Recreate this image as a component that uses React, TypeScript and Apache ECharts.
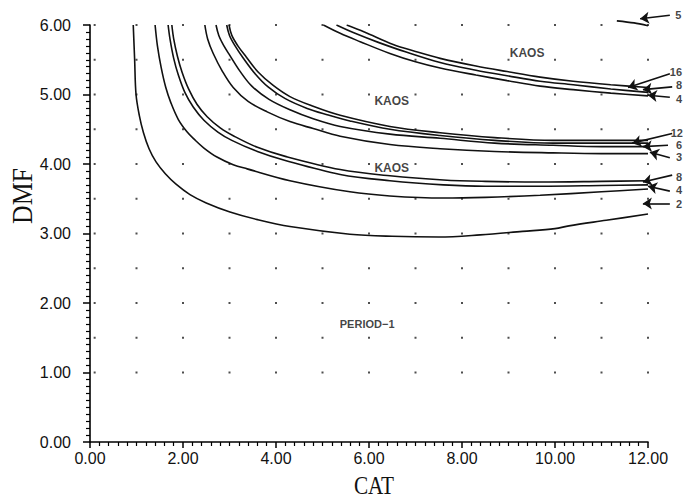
import React, { useEffect, useRef } from "react";
import * as echarts from "echarts";

// ---- axis ----
const CAT_MIN = 0;
const CAT_MAX = 12;
const CAT_STEP = 2;
const DMF_MIN = 0;
const DMF_MAX = 6;
const DMF_STEP = 1;

// ---- reference dot grid ----
const dotCat = [0.1, 1, 2, 3, 4, 5, 6, 7, 8, 9, 10, 11, 12];
const dotDmf = [1, 1.5, 2, 2.5, 3, 3.5, 4, 4.5, 5, 5.5, 6];

// ---- boundary curves (CAT, DMF) ----
// lower group: periods 2, 4, 8, 16
const curvePeriod2 = [
  [0.93, 6.0], [0.96, 5.5], [0.99, 5.0], [1.06, 4.7], [1.15, 4.45], [1.27, 4.22],
  [1.42, 4.03], [1.62, 3.86], [1.85, 3.71], [2.15, 3.56], [2.5, 3.44], [3.01, 3.31],
  [3.6, 3.2], [4.3, 3.1], [5.59, 2.99], [6.5, 2.96], [7.5, 2.95], [8.39, 2.98],
  [9.3, 3.03], [10.0, 3.07], [10.3, 3.11], [11.1, 3.19], [12.0, 3.28],
];
const curvePeriod4 = [
  [1.4, 6.0], [1.45, 5.7], [1.53, 5.39], [1.63, 5.1], [1.74, 4.88], [1.9, 4.64],
  [2.09, 4.46], [2.25, 4.35], [2.45, 4.23], [2.73, 4.1], [3.08, 3.99], [3.38, 3.93],
  [4.3, 3.76], [5.59, 3.6], [6.45, 3.54], [7.6, 3.51], [8.5, 3.52], [9.68, 3.55],
  [11.0, 3.6], [12.0, 3.64],
];
const curvePeriod8 = [
  [1.68, 6.0], [1.72, 5.8], [1.8, 5.52], [1.9, 5.28], [2.04, 5.03], [2.22, 4.82],
  [2.45, 4.63], [2.75, 4.46], [3.05, 4.34], [3.6, 4.18], [4.2, 4.05], [5.38, 3.85],
  [6.45, 3.76], [7.6, 3.7], [8.5, 3.68], [9.68, 3.68], [11.0, 3.69], [12.0, 3.7],
];
const curvePeriod16 = [
  [1.76, 6.0], [1.8, 5.8], [1.88, 5.55], [1.98, 5.32], [2.12, 5.08], [2.3, 4.86],
  [2.52, 4.68], [2.8, 4.52], [3.1, 4.4], [3.6, 4.24], [4.2, 4.11], [5.38, 3.92],
  [6.45, 3.83], [7.6, 3.77], [8.5, 3.75], [9.68, 3.74], [11.0, 3.75], [12.0, 3.76],
];
// middle group: periods 3, 6, 12, 24
const curvePeriod3 = [
  [2.47, 6.0], [2.53, 5.8], [2.65, 5.59], [2.85, 5.33], [3.08, 5.1], [3.4, 4.9],
  [3.81, 4.75], [4.3, 4.61], [4.8, 4.51], [5.38, 4.4], [6.45, 4.28], [7.53, 4.22],
  [8.7, 4.18], [9.96, 4.16], [11.0, 4.15], [12.0, 4.15],
];
const curvePeriod6 = [
  [2.71, 6.0], [2.77, 5.85], [2.88, 5.7], [3.01, 5.56], [3.22, 5.34], [3.48, 5.12],
  [3.85, 4.93], [4.3, 4.78], [4.8, 4.65], [5.38, 4.54], [6.45, 4.43], [7.53, 4.37],
  [8.7, 4.3], [9.96, 4.27], [11.0, 4.25], [12.0, 4.25],
];
const curvePeriod12 = [
  [2.94, 6.0], [3.0, 5.85], [3.12, 5.7], [3.29, 5.53], [3.55, 5.3], [3.83, 5.11],
  [4.2, 4.94], [4.67, 4.8], [5.1, 4.71], [5.59, 4.62], [6.45, 4.5], [7.53, 4.41],
  [8.7, 4.34], [9.96, 4.3], [11.0, 4.3], [12.0, 4.3],
];
const curvePeriod24 = [
  [2.99, 6.0], [3.05, 5.85], [3.18, 5.7], [3.36, 5.54], [3.62, 5.32], [3.94, 5.13],
  [4.3, 4.97], [4.8, 4.83], [5.38, 4.7], [6.45, 4.54], [7.53, 4.45], [8.7, 4.38],
  [9.96, 4.34], [11.0, 4.34], [12.0, 4.34],
];
// upper group: periods 4, 8, 16
const curveUpper4 = [
  [5.02, 6.0], [5.38, 5.88], [5.81, 5.76], [6.45, 5.59], [7.0, 5.47], [7.53, 5.38],
  [8.3, 5.28], [8.97, 5.2], [9.68, 5.12], [10.39, 5.07], [11.2, 5.02], [12.0, 4.98],
];
const curveUpper8 = [
  [5.3, 6.0], [5.7, 5.88], [6.2, 5.75], [6.8, 5.61], [7.53, 5.46], [8.3, 5.35],
  [8.97, 5.27], [9.68, 5.19], [10.39, 5.14], [11.2, 5.08], [12.0, 5.03],
];
const curveUpper16 = [
  [5.52, 6.0], [5.9, 5.9], [6.52, 5.72], [7.0, 5.62], [7.53, 5.52], [8.3, 5.41],
  [8.97, 5.33], [9.68, 5.25], [10.39, 5.19], [11.2, 5.14], [12.0, 5.1],
];
// period-5 fragment at the top right corner
const curvePeriod5 = [[11.33, 6.06], [11.7, 6.03], [12.0, 5.99]];

// ---- arrow annotations ----
const arrowLabels = ["5", "16", "8", "4", "12", "6", "3", "8", "4", "2"];
const arrowLabelPos = [
  [12.65, 6.14], [12.6, 5.32], [12.67, 5.13], [12.67, 4.94], [12.62, 4.44],
  [12.67, 4.27], [12.67, 4.1], [12.67, 3.81], [12.67, 3.62], [12.67, 3.43],
];
const arrowTails = [
  [12.47, 6.14], [12.47, 5.3], [12.52, 5.11], [12.47, 4.96], [12.52, 4.44],
  [12.43, 4.27], [12.47, 4.09], [12.52, 3.84], [12.47, 3.61], [12.47, 3.43],
];
const arrowTips = [
  [11.83, 6.09], [11.57, 5.1], [11.89, 5.07], [12.0, 4.99], [11.66, 4.3],
  [11.89, 4.25], [12.04, 4.17], [11.89, 3.74], [12.0, 3.68], [11.89, 3.43],
];

// ---- region labels ----
const regionNames = ["KAOS", "KAOS", "KAOS", "PERIOD\u22121"];
const regionPos = [[9.4, 5.6], [6.49, 4.9], [6.49, 3.94], [5.96, 1.7]];
const regionSizes = [12, 12, 12, 11];

const allCurves = [
  curvePeriod2, curvePeriod4, curvePeriod8, curvePeriod16,
  curvePeriod3, curvePeriod6, curvePeriod12, curvePeriod24,
  curveUpper4, curveUpper8, curveUpper16,
];

export default function App() {
  const ref = useRef<HTMLDivElement>(null);

  useEffect(() => {
    if (!ref.current) return;
    const chart = echarts.init(ref.current, undefined, { renderer: "svg" });

    const dots: number[][] = [];
    for (const c of dotCat) for (const d of dotDmf) dots.push([c, d]);

    const lineStyle = { color: "#111", width: 1.6 };

    const curveSeries: any[] = allCurves.map((data) => ({
      type: "line",
      data,
      smooth: 0.35,
      showSymbol: false,
      symbol: "none",
      lineStyle,
      silent: true,
      z: 3,
    }));
    curveSeries.push({
      type: "line",
      data: curvePeriod5,
      smooth: 0.3,
      showSymbol: false,
      symbol: "none",
      lineStyle,
      clip: false,
      silent: true,
      z: 3,
    });

    const tickFont = {
      fontFamily: "Liberation Sans, Arial, sans-serif",
      fontSize: 16,
      color: "#111",
    };

    chart.setOption({
      animation: false,
      backgroundColor: "#fff",
      grid: { left: 90, right: 36, top: 25, bottom: 58, containLabel: false },
      xAxis: {
        type: "value",
        min: CAT_MIN,
        max: CAT_MAX,
        interval: CAT_STEP,
        axisLine: { show: true, onZero: false, lineStyle: { color: "#000", width: 1.6 } },
        axisTick: { show: true, inside: false, length: 6, lineStyle: { color: "#000", width: 1.5 } },
        minorTick: { show: true, splitNumber: 10, length: 4, lineStyle: { color: "#000", width: 1.2 } },
        splitLine: { show: false },
        axisLabel: { ...tickFont, margin: 8, formatter: (v: number) => v.toFixed(2) },
      },
      yAxis: {
        type: "value",
        min: DMF_MIN,
        max: DMF_MAX,
        interval: DMF_STEP,
        axisLine: { show: true, onZero: false, lineStyle: { color: "#000", width: 1.6 } },
        axisTick: { show: true, inside: false, length: 7, lineStyle: { color: "#000", width: 1.5 } },
        minorTick: { show: true, splitNumber: 10, length: 4, lineStyle: { color: "#000", width: 1.2 } },
        splitLine: { show: false },
        axisLabel: { ...tickFont, margin: 19, formatter: (v: number) => v.toFixed(2) },
      },
      graphic: [
        {
          type: "text",
          x: 22,
          y: 196,
          rotation: Math.PI / 2,
          scaleX: 0.86,
          style: {
            text: "DMF",
            fontFamily: "Liberation Serif, Times New Roman, serif",
            fontSize: 30,
            fill: "#111",
            textAlign: "center",
            textVerticalAlign: "middle",
          },
        },
        {
          type: "text",
          x: 374,
          y: 485,
          scaleX: 0.85,
          style: {
            text: "CAT",
            fontFamily: "Liberation Serif, Times New Roman, serif",
            fontSize: 25,
            fill: "#111",
            textAlign: "center",
            textVerticalAlign: "middle",
          },
        },
      ],
      series: [
        {
          type: "scatter",
          data: dots,
          symbol: "rect",
          symbolSize: 2,
          itemStyle: { color: "#222" },
          silent: true,
          z: 1,
        },
        ...curveSeries,
        {
          type: "lines",
          coordinateSystem: "cartesian2d",
          clip: false,
          symbol: ["none", "arrow"],
          symbolSize: [0, 9],
          lineStyle: { color: "#111", width: 1.6, opacity: 1 },
          silent: true,
          data: arrowTails.map((t, i) => ({ coords: [t, arrowTips[i]] })),
          z: 4,
        },
        {
          type: "scatter",
          clip: false,
          symbol: "circle",
          symbolSize: 1,
          itemStyle: { color: "rgba(0,0,0,0)" },
          silent: true,
          data: arrowLabels.map((n, i) => ({ name: n, value: arrowLabelPos[i] })),
          label: {
            show: true,
            position: "inside",
            formatter: (p: any) => p.name,
            fontFamily: "Liberation Sans, Arial, sans-serif",
            fontWeight: "bold",
            fontSize: 11,
            lineHeight: 11,
            color: "#111",
          },
          z: 5,
        },
        {
          type: "scatter",
          clip: false,
          symbol: "circle",
          symbolSize: 1,
          itemStyle: { color: "rgba(0,0,0,0)" },
          silent: true,
          data: regionNames.map((n, i) => ({
            name: n,
            value: regionPos[i],
            label: { fontSize: regionSizes[i] },
          })),
          label: {
            show: true,
            position: "inside",
            formatter: (p: any) => p.name,
            fontFamily: "Liberation Sans, Arial, sans-serif",
            fontWeight: "bold",
            fontSize: 12,
            color: "#111",
          },
          z: 5,
        },
      ],
    });

    return () => chart.dispose();
  }, []);

  return (
    <div
      ref={ref}
      style={{ position: "fixed", left: 0, top: 0, width: 684, height: 500, background: "#fff" }}
    />
  );
}
